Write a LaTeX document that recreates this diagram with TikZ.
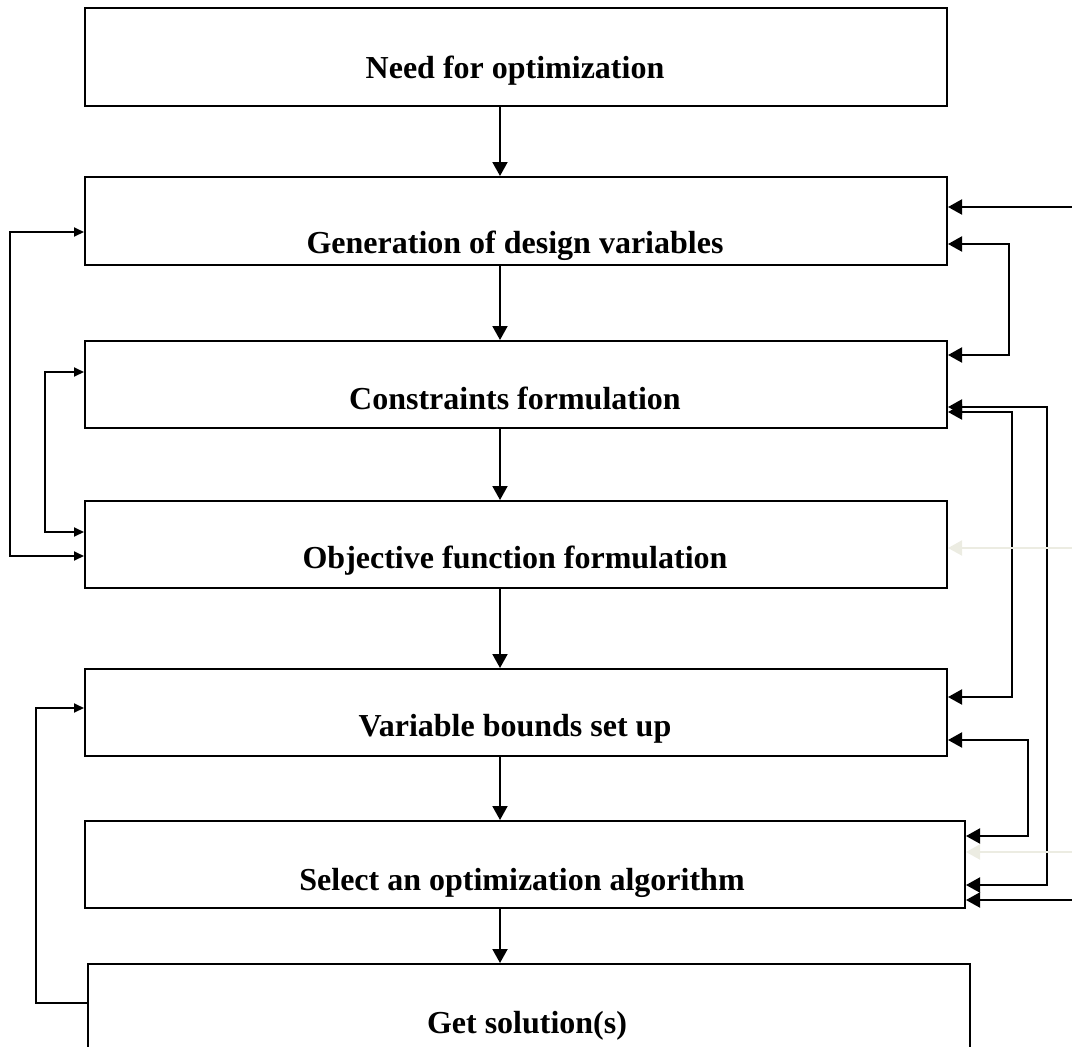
\documentclass[tikz,border=0pt]{standalone}
\usepackage{fontspec}
\setmainfont{Liberation Serif}
\usetikzlibrary{arrows.meta}
\definecolor{faint}{RGB}{236,236,226}
\begin{document}
\begin{tikzpicture}[x=1pt,y=-1pt, line width=2pt,
  box/.style={draw, line width=2pt, inner sep=0pt, anchor=north west},
  lbl/.style={font=\fontsize{32}{36}\selectfont\bfseries, anchor=base, inner sep=0pt},
  big/.style={-{Triangle[length=14pt,width=15pt]}},
  bigboth/.style={{Triangle[length=14pt,width=15pt]}-{Triangle[length=14pt,width=15pt]}},
  small/.style={-{Triangle[length=10pt,width=9pt]}},
  smallboth/.style={{Triangle[length=10pt,width=9pt]}-{Triangle[length=10pt,width=9pt]}},
  faintarrow/.style={draw=faint, -{Triangle[length=14pt,width=15pt,fill=faint]}}
]
\useasboundingbox (0,0) rectangle (1072,1047);
% boxes
\node[box, minimum width=862pt, minimum height=98pt] (b1) at (84,7) {};
\node[box, minimum width=862pt, minimum height=88pt] (b2) at (84,176) {};
\node[box, minimum width=862pt, minimum height=87pt] (b3) at (84,340) {};
\node[box, minimum width=862pt, minimum height=87pt] (b4) at (84,500) {};
\node[box, minimum width=862pt, minimum height=87pt] (b5) at (84,668) {};
\node[box, minimum width=880pt, minimum height=87pt] (b6) at (84,820) {};
\node[box, minimum width=882pt, minimum height=100pt] (b7) at (87,963) {};
% labels
\node[lbl] (t1) at (515,78) {Need for optimization};
\node[lbl] (t2) at (515,253) {Generation of design variables};
\node[lbl] (t3) at (515,409) {Constraints formulation};
\node[lbl] (t4) at (515,568) {Objective function formulation};
\node[lbl] (t5) at (515,736) {Variable bounds set up};
\node[lbl] (t6) at (522,890) {Select an optimization algorithm};
\node[lbl] (t7) at (527,1033) {Get solution(s)};
% main vertical arrows
\coordinate (cx) at (500,0);
\draw[big] (b1.south -| cx) -- (b2.north -| cx);
\draw[big] (b2.south -| cx) -- (b3.north -| cx);
\draw[big] (b3.south -| cx) -- (b4.north -| cx);
\draw[big] (b4.south -| cx) -- (b5.north -| cx);
\draw[big] (b5.south -| cx) -- (b6.north -| cx);
\draw[big] (b6.south -| cx) -- (b7.north -| cx);
% left connectors
\coordinate (l1) at (10,232); \coordinate (l2) at (10,556);
\draw[smallboth] (b2.west |- l1) -- (l1) -- (l2) -- (b4.west |- l2);
\coordinate (l3) at (45,372); \coordinate (l4) at (45,532);
\draw[smallboth] (b3.west |- l3) -- (l3) -- (l4) -- (b4.west |- l4);
\coordinate (l5) at (36,1003); \coordinate (l6) at (36,708);
\draw[small] (b7.west |- l5) -- (l5) -- (l6) -- (b5.west |- l6);
% right connectors
\coordinate (ra) at (1072,207);
\draw[big] (ra) -- (b2.east |- ra);
\coordinate (r1) at (1009,244); \coordinate (r2) at (1009,355);
\draw[bigboth] (b2.east |- r1) -- (r1) -- (r2) -- (b3.east |- r2);
\coordinate (r3) at (1047,407); \coordinate (r4) at (1047,885);
\draw[bigboth] (b3.east |- r3) -- (r3) -- (r4) -- (b6.east |- r4);
\coordinate (r5) at (1012,412); \coordinate (r6) at (1012,697);
\draw[bigboth] (b3.east |- r5) -- (r5) -- (r6) -- (b5.east |- r6);
\coordinate (r7) at (1028,740); \coordinate (r8) at (1028,836);
\draw[bigboth] (b5.east |- r7) -- (r7) -- (r8) -- (b6.east |- r8);
\coordinate (rb) at (1072,900);
\draw[big] (rb) -- (b6.east |- rb);
\coordinate (fa) at (1072,548); \coordinate (fb) at (1072,852);
\draw[faintarrow] (fa) -- (b4.east |- fa);
\draw[faintarrow] (fb) -- (b6.east |- fb);
\end{tikzpicture}
\end{document}
